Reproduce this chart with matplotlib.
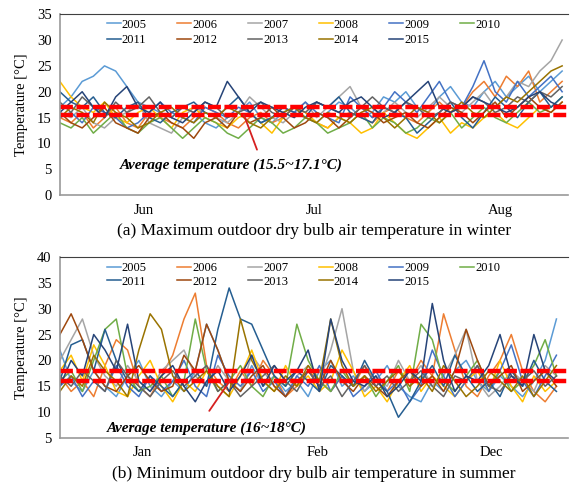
import numpy as np
import matplotlib
matplotlib.use('Agg')
import matplotlib.pyplot as plt

plt.rcParams['font.family'] = ['Liberation Serif', 'DejaVu Serif']

years = ['2005', '2006', '2007', '2008', '2009', '2010',
         '2011', '2012', '2013', '2014', '2015']
colors = ['#5B9BD5', '#ED7D31', '#A5A5A5', '#FFC000', '#4472C4', '#70AD47',
          '#255E91', '#9E480E', '#636363', '#997300', '#264478']

# (a) winter, Jun-Aug, one value every second day
winter_days = np.arange(0, 92, 2)
winter = {
    '2005': [17,19,22,23,25,24,21,18,17,16,15,17,16,14,13,15,16,18,15,14,16,17,15,14,16,18,17,15,16,19,18,20,17,16,19,21,18,17,20,22,19,21,23,20,22,24],
    '2006': [15,14,16,13,15,17,14,13,16,15,14,13,15,17,16,14,13,15,16,14,15,17,16,14,13,15,16,15,14,16,17,15,14,16,18,16,17,20,22,19,23,21,24,18,20,22],
    '2007': [16,15,17,14,13,15,16,18,14,13,12,15,17,16,15,14,16,19,17,15,14,16,18,15,17,19,21,17,15,16,18,16,15,17,19,17,16,18,20,17,19,22,21,24,26,30],
    '2008': [22,19,17,16,18,15,14,16,17,15,13,16,17,15,14,13,15,16,14,12,15,17,16,14,13,15,14,12,13,16,14,12,11,13,15,12,14,13,15,16,14,13,15,17,16,18],
    '2009': [15,16,14,17,16,15,13,14,16,18,16,15,14,17,16,15,17,16,14,15,17,16,18,16,15,14,19,17,15,17,20,18,16,19,22,18,17,21,26,20,18,22,19,21,23,20],
    '2010': [14,13,15,12,14,16,13,12,14,15,13,11,13,15,14,12,11,13,15,14,12,13,15,14,12,13,14,16,13,15,14,12,13,15,14,16,13,15,17,15,14,16,18,16,17,19],
    '2011': [20,18,17,19,16,15,17,18,15,14,16,17,18,16,15,17,19,16,14,15,17,16,15,18,17,19,16,15,14,17,16,15,12,14,16,18,15,13,16,19,17,15,18,20,17,19],
    '2012': [16,14,13,15,17,14,13,12,15,16,14,13,11,14,15,13,16,14,15,17,15,13,14,16,15,13,15,17,16,14,15,16,14,13,15,17,16,14,16,18,15,17,19,17,16,18],
    '2013': [18,16,19,17,15,18,16,17,19,16,15,17,16,18,17,15,16,17,18,16,15,17,16,18,17,16,15,17,19,17,16,18,17,15,16,18,17,19,18,16,17,19,18,20,19,21],
    '2014': [15,17,16,14,18,16,15,13,14,16,17,15,14,16,15,17,16,14,13,15,16,17,15,14,16,15,14,16,17,15,13,15,17,16,14,16,18,16,15,17,19,18,20,22,24,25],
    '2015': [16,18,20,17,15,19,21,17,16,18,15,14,16,18,17,22,19,16,18,17,16,15,17,18,17,16,18,19,17,15,16,18,20,22,17,16,17,19,18,17,16,17,19,20,18,17],
}

# (b) summer, Jan, Feb, Dec, one value every second day
summer_days = np.arange(0, 90, 2)
summer = {
    '2005': [22,16,14,18,15,13,17,20,15,13,16,14,18,27,22,16,14,19,15,17,14,16,13,18,20,15,17,14,16,19,15,13,12,16,14,18,20,16,14,17,15,13,16,20,28],
    '2006': [17,14,16,13,19,24,22,15,13,17,21,28,33,19,16,14,18,15,20,17,13,15,18,16,14,17,15,19,16,14,18,16,20,17,29,22,15,13,17,20,25,18,14,12,15],
    '2007': [20,24,28,21,17,15,19,16,14,18,20,22,17,15,19,16,14,21,18,15,13,17,19,16,22,30,18,14,17,15,20,16,19,15,17,21,26,16,13,15,18,16,14,19,17],
    '2008': [18,21,16,23,19,14,13,17,20,15,12,16,14,18,15,13,17,22,16,14,19,15,17,14,16,22,18,13,15,12,16,19,14,17,15,13,16,18,14,20,15,12,17,14,16],
    '2009': [15,17,13,16,14,19,15,13,17,14,16,20,15,13,21,17,15,18,14,16,13,17,15,19,14,17,13,15,18,14,16,12,15,22,17,13,16,19,14,18,23,16,13,17,21],
    '2010': [16,18,14,20,26,28,17,14,15,17,13,16,28,18,14,16,19,15,13,17,15,27,20,16,14,18,15,17,13,16,19,14,27,24,16,14,17,20,15,18,14,16,19,24,17],
    '2011': [16,23,24,18,26,20,16,14,17,15,13,16,18,15,26,34,28,27,22,17,15,18,16,14,19,17,15,20,16,14,9,12,16,19,15,21,17,14,16,13,18,15,20,16,14],
    '2012': [25,29,24,18,15,14,17,19,16,14,15,21,18,27,22,16,14,17,19,15,13,16,18,15,20,16,14,17,15,13,16,18,15,17,14,18,26,20,15,17,19,14,16,18,15],
    '2013': [17,15,18,16,14,20,17,15,13,16,18,15,17,19,14,16,13,15,17,19,16,14,18,15,17,13,16,19,15,17,14,16,18,15,13,17,16,19,15,14,17,16,18,15,17],
    '2014': [14,17,15,21,18,16,13,22,29,26,17,14,16,18,15,13,28,20,16,14,17,15,19,16,28,19,15,17,14,16,18,15,17,14,19,16,13,15,18,16,14,17,13,16,19],
    '2015': [15,20,17,25,22,18,27,16,14,17,19,15,12,16,18,14,17,21,15,19,16,18,22,14,28,20,16,15,17,13,15,18,16,31,20,14,17,16,19,25,17,15,25,18,16],
}

winter_months = ['Jun', 'Jul', 'Aug']
winter_month_pos = [15, 45.5, 79]
summer_months = ['Jan', 'Feb', 'Dec']
summer_month_pos = [14.7, 45.7, 76.5]
winter_avg = [15.5, 17.1]
summer_avg = [16, 18]

# legend is filled column by column, so interleave the two rows
legend_order = [0, 6, 1, 7, 2, 8, 3, 9, 4, 10, 5]


def draw_panel(ax, days, data, xmax, ylim, yticks, months, month_pos,
               avg, caption, note, note_xy, arrow_from, arrow_to, leg_y, leg_sp):
    lines = []
    for y, c in zip(years, colors):
        lines += ax.plot(days, data[y], color=c, lw=1.1, label=y)
    for a in avg:
        ax.axhline(a, color='#FF0000', lw=3.2, dashes=(2.9, 0.8))
    ax.set_xlim(0, xmax)
    ax.set_ylim(*ylim)
    ax.set_yticks(yticks)
    ax.set_xticks(month_pos)
    ax.set_xticklabels(months)
    ax.tick_params(length=0, labelsize=10.5, pad=6)
    ax.spines['right'].set_visible(False)
    ax.spines['top'].set_color('#404040')
    for s in ['left', 'bottom']:
        ax.spines[s].set_color('#999999')
        ax.spines[s].set_linewidth(1.2)
    ax.set_ylabel('Temperature [°C]', fontsize=10.5, labelpad=6)
    ax.legend([lines[i] for i in legend_order], [years[i] for i in legend_order],
              loc='upper left', bbox_to_anchor=(0.0925, leg_y), ncol=6,
              frameon=False, fontsize=9, borderpad=0, borderaxespad=0,
              handlelength=1.1, handletextpad=0.1, columnspacing=2.45,
              labelspacing=leg_sp)
    ax.text(note_xy[0], note_xy[1], note, fontsize=11, fontweight='bold',
            fontstyle='italic', ha='left', va='center')
    ax.annotate('', xy=arrow_to, xytext=arrow_from,
                arrowprops=dict(arrowstyle='-', color='#D62020', lw=1.3))
    ax.text(0.5, -0.2, caption, transform=ax.transAxes, fontsize=12.5,
            ha='center', va='center')


fig = plt.figure(figsize=(5.7, 4.88), dpi=100)
ax1 = fig.add_axes([0.105, 0.600, 0.891, 0.371])
ax2 = fig.add_axes([0.105, 0.1025, 0.891, 0.371])

draw_panel(ax1, winter_days, winter, 91, (0, 35), range(0, 36, 5),
           winter_months, winter_month_pos, winter_avg,
           '(a) Maximum outdoor dry bulb air temperature in winter',
           'Average temperature (15.5~17.1°C)', (10.7, 5.8),
           (35.5, 8.3), (32.8, 16.05), 0.975, 0.3)
draw_panel(ax2, summer_days, summer, 90, (5, 40), range(5, 41, 5),
           summer_months, summer_month_pos, summer_avg,
           '(b) Minimum outdoor dry bulb air temperature in summer',
           'Average temperature (16~18°C)', (8.3, 6.9),
           (26.2, 9.8), (30.6, 16.8), 0.97, 0.12)

fig.savefig('out.png', dpi=100)
